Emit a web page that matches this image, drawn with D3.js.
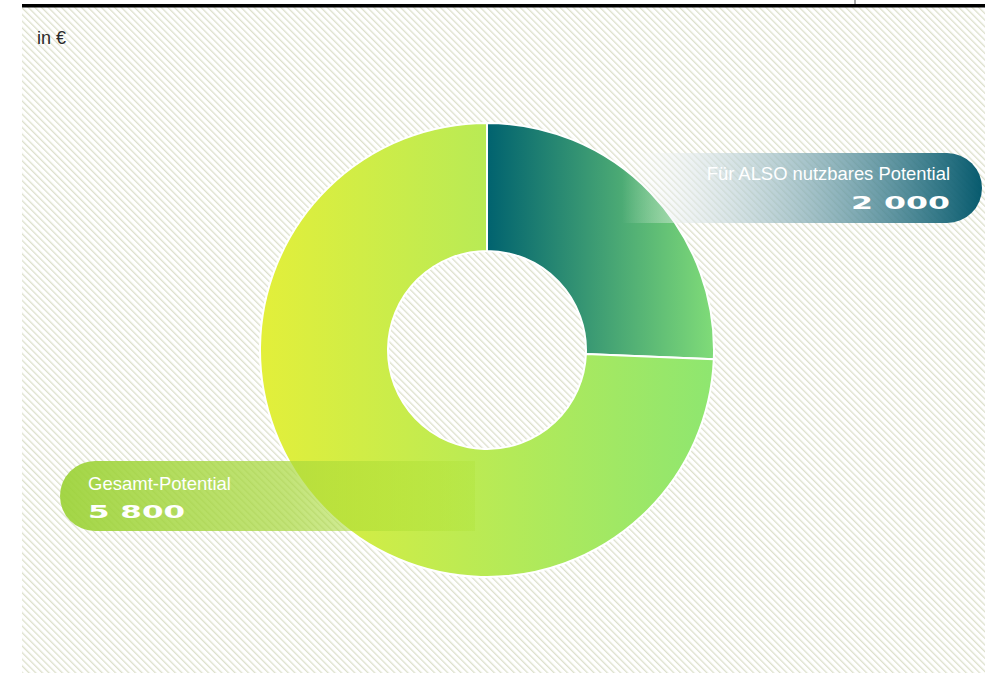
<!DOCTYPE html>
<html lang="de">
<head>
<meta charset="UTF-8">
<title>Potential</title>
<script src="https://d3js.org/d3.v7.min.js"></script>
<style>
  html, body { margin: 0; padding: 0; background: #fff; }
  svg { display: block; }
  .lbl { font-family: "Liberation Sans", Arial, sans-serif; fill: #fff; }
  .num { font-family: "DejaVu Sans", sans-serif; font-weight: bold; fill: #fff; }
</style>
</head>
<body>
<svg id="chart"></svg>
<script>
// data
const segments = ["Für ALSO nutzbares Potential", "Gesamt-Potential"];
const values = [2000, 5800];
const valueLabels = ["2 000", "5 800"];
const unitLabel = "in €";

const width = 985, height = 673;
const svg = d3.select("#chart").attr("width", width).attr("height", height);
const defs = svg.append("defs");

// hatch background
const pat = defs.append("pattern")
    .attr("id", "hatch")
    .attr("patternUnits", "userSpaceOnUse")
    .attr("width", 4.7).attr("height", 4.7)
    .attr("patternTransform", "rotate(-45)");
pat.append("rect").attr("width", 4.7).attr("height", 4.7).attr("fill", "#fff");
pat.append("line")
    .attr("x1", 0).attr("y1", 0).attr("x2", 0).attr("y2", 4.7)
    .attr("stroke", "#dde0cc").attr("stroke-width", 2.6);

svg.append("rect").attr("x", 22).attr("y", 7).attr("width", width - 22).attr("height", height - 7)
    .attr("fill", "url(#hatch)");

// top rule
svg.append("rect").attr("x", 22).attr("y", 4).attr("width", width - 22).attr("height", 3.5).attr("fill", "#000");
svg.append("line").attr("x1", 855).attr("x2", 855).attr("y1", 0).attr("y2", 4)
    .attr("stroke", "#555").attr("stroke-width", 1);

svg.append("text").attr("class", "lbl").attr("x", 37).attr("y", 44)
    .style("fill", "#2a2a2a").style("font-size", "18px").text(unitLabel);

// donut
const cx = 487, cy = 350, outerR = 227, innerR = 99;

// gradient coords are in the donut group's local space (centre = 0,0)
const gradDefs = [
    { id: "gTeal", x1: 0, x2: outerR, stops: [["0%", "#00626f"], ["100%", "#80dc78"]] },
    { id: "gLime", x1: -outerR, x2: outerR, stops: [["0%", "#e3ef3a"], ["100%", "#8ee670"]] }
];
gradDefs.forEach(g => {
    const lg = defs.append("linearGradient").attr("id", g.id)
        .attr("gradientUnits", "userSpaceOnUse")
        .attr("x1", g.x1).attr("x2", g.x2).attr("y1", 0).attr("y2", 0);
    g.stops.forEach(s => lg.append("stop").attr("offset", s[0]).attr("stop-color", s[1]));
});

const pie = d3.pie().sort(null).value(d => d);
const arc = d3.arc().innerRadius(innerR).outerRadius(outerR);

const g = svg.append("g").attr("transform", `translate(${cx},${cy})`);
g.selectAll("path")
    .data(pie(values))
    .enter().append("path")
    .attr("d", arc)
    .attr("fill", (d, i) => i === 0 ? "url(#gTeal)" : "url(#gLime)")
    .attr("stroke", "#fff")
    .attr("stroke-width", 2);

// label pills
function pillPath(x, y, w, h, roundRight) {
    const r = h / 2;
    const p = d3.path();
    if (roundRight) {
        p.moveTo(x, y);
        p.lineTo(x + w - r, y);
        p.arc(x + w - r, y + r, r, -Math.PI / 2, Math.PI / 2);
        p.lineTo(x, y + h);
    } else {
        p.moveTo(x + r, y);
        p.lineTo(x + w, y);
        p.lineTo(x + w, y + h);
        p.lineTo(x + r, y + h);
        p.arc(x + r, y + r, r, Math.PI / 2, Math.PI * 1.5);
    }
    p.closePath();
    return p.toString();
}

const pTop = defs.append("linearGradient").attr("id", "pTop")
    .attr("gradientUnits", "userSpaceOnUse").attr("x1", 622).attr("x2", 982).attr("y1", 0).attr("y2", 0);
pTop.append("stop").attr("offset", "0%").attr("stop-color", "#ffffff").attr("stop-opacity", 0);
pTop.append("stop").attr("offset", "20%").attr("stop-color", "#dfe8ea").attr("stop-opacity", 0.6);
pTop.append("stop").attr("offset", "100%").attr("stop-color", "#00566a").attr("stop-opacity", 0.97);

const pBot = defs.append("linearGradient").attr("id", "pBot")
    .attr("gradientUnits", "userSpaceOnUse").attr("x1", 60).attr("x2", 475).attr("y1", 0).attr("y2", 0);
pBot.append("stop").attr("offset", "0%").attr("stop-color", "#9bd236").attr("stop-opacity", 0.92);
pBot.append("stop").attr("offset", "55%").attr("stop-color", "#a8d83e").attr("stop-opacity", 0.7);
pBot.append("stop").attr("offset", "100%").attr("stop-color", "#a6dc26").attr("stop-opacity", 0.2);

svg.append("path").attr("d", pillPath(622, 153, 360, 70, true)).attr("fill", "url(#pTop)");
svg.append("path").attr("d", pillPath(60, 461, 415, 70, false)).attr("fill", "url(#pBot)");

svg.append("text").attr("class", "lbl").attr("x", 950).attr("y", 180)
    .attr("text-anchor", "end").style("font-size", "18.4px").text(segments[0]);
svg.append("text").attr("class", "num").attr("x", 851).attr("y", 209)
    .attr("textLength", 99).attr("lengthAdjust", "spacingAndGlyphs")
    .style("font-size", "18px").text(valueLabels[0]);

svg.append("text").attr("class", "lbl").attr("x", 88).attr("y", 490)
    .style("font-size", "18.5px").text(segments[1]);
svg.append("text").attr("class", "num").attr("x", 88).attr("y", 518)
    .attr("textLength", 97).attr("lengthAdjust", "spacingAndGlyphs")
    .style("font-size", "18px").text(valueLabels[1]);
</script>
</body>
</html>
